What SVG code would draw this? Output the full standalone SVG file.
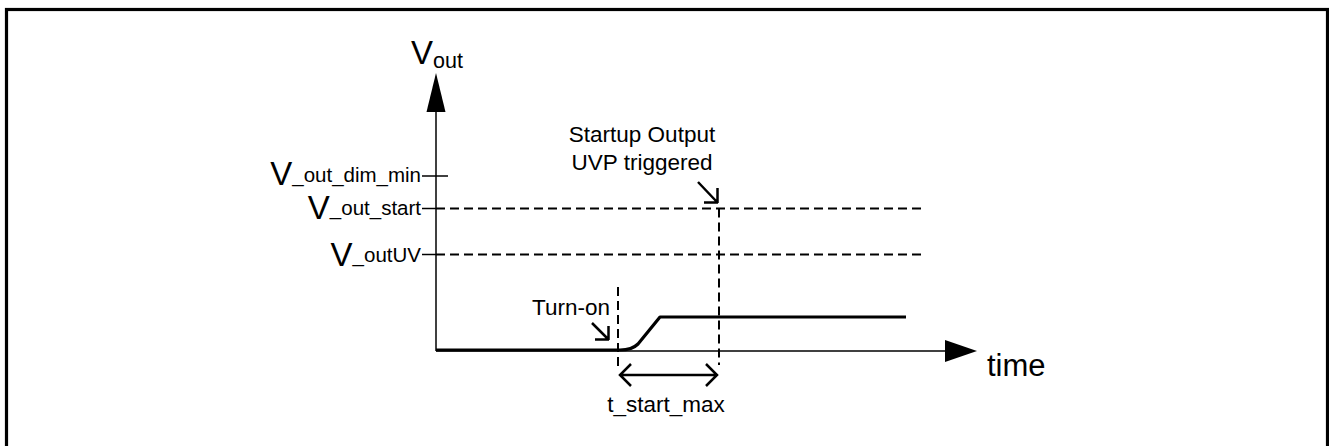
<svg xmlns="http://www.w3.org/2000/svg" width="1329" height="446" viewBox="0 0 1329 446">
<style>
text{font-family:"Liberation Sans",Arial,sans-serif;fill:#000}
.thin{stroke:#000;stroke-width:1.5;fill:none}
.dash{stroke:#000;stroke-width:2;stroke-dasharray:9,5;fill:none}
.thick{stroke:#000;stroke-width:3.2;fill:none;stroke-linejoin:round}
.ptr{stroke:#000;stroke-width:2.5;fill:none}
.big{font-size:33px}
.sm{font-size:20.5px}
.lbl{font-size:22.5px}
</style>
<rect x="6.5" y="9.5" width="1321" height="445" fill="#fff" stroke="#000" stroke-width="3.2"/>
<g id="connectors">
  <line class="thin" x1="436" y1="351" x2="436" y2="108"/>
  <polygon points="436,73 426.5,112 445.5,112" fill="#000"/>
  <line class="thin" x1="436" y1="351" x2="948" y2="351"/>
  <polygon points="977,351 945,340 945,362" fill="#000"/>
  <line class="thin" x1="422" y1="176" x2="448" y2="176"/>
  <line class="thin" x1="422" y1="208.5" x2="436" y2="208.5"/>
  <line class="dash" x1="436" y1="208.5" x2="921" y2="208.5"/>
  <line class="thin" x1="422" y1="254.5" x2="436" y2="254.5"/>
  <line class="dash" x1="436" y1="254.5" x2="926" y2="254.5"/>
  <line class="dash" x1="719" y1="208.5" x2="719" y2="365"/>
  <line class="dash" x1="618" y1="287" x2="618" y2="366"/>
  <path class="thick" d="M436,350 L620,350 Q632,350 638,344 L660,317 L906,317"/>
  <path class="ptr" d="M698,182 L717,202 M704,202.5 L718,202.5 M717.5,188 L717.5,203"/>
  <path class="ptr" d="M592,323 L608,339 M595,339.5 L609,339.5 M608.5,326 L608.5,340"/>
  <path class="ptr" d="M620,375 L717,375 M631,364 L620,375 L631,386 M706,364 L717,375 L706,386"/>
</g>
<g id="axis-labels">
  <text x="411" y="64"><tspan class="big">V</tspan><tspan font-size="21.5" dy="4">out</tspan></text>
  <text x="987" y="376" font-size="31">time</text>
</g>
<g id="level-labels">
  <text x="421" text-anchor="end" y="185"><tspan class="big">V</tspan><tspan class="sm" dy="-3">_out_dim_min</tspan></text>
  <text x="421" text-anchor="end" y="219"><tspan class="big">V</tspan><tspan class="sm" dy="-4">_out_start</tspan></text>
  <text x="421" text-anchor="end" y="266"><tspan class="big">V</tspan><tspan class="sm" dy="-4">_outUV</tspan></text>
</g>
<g id="annotations">
  <text class="lbl" x="642" y="142" text-anchor="middle">Startup Output</text>
  <text class="lbl" x="642" y="170" text-anchor="middle">UVP triggered</text>
  <text class="lbl" x="610" y="315" text-anchor="end">Turn-on</text>
  <text class="lbl" x="666" y="412" text-anchor="middle">t_start_max</text>
</g>
</svg>
